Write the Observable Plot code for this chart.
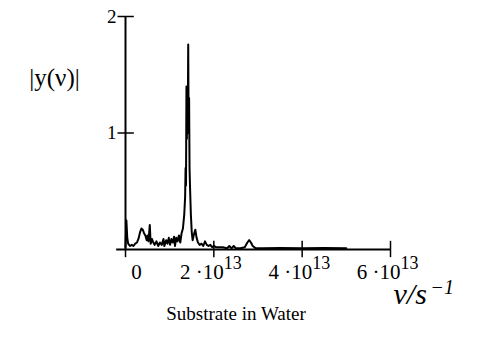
<!DOCTYPE html>
<html>
<head>
<meta charset="utf-8">
<script src="https://cdn.jsdelivr.net/npm/d3@7"></script>
<script src="https://cdn.jsdelivr.net/npm/@observablehq/plot@0.6"></script>
<style>
  html, body { margin: 0; padding: 0; background: #fff; }
</style>
</head>
<body>
<div id="chart"></div>
<script>
// frequency in units of 1e13 s^-1
const nu = [
  0.00, 0.02, 0.04, 0.06, 0.10, 0.14, 0.18, 0.22, 0.26, 0.30,
  0.33, 0.36, 0.39, 0.42, 0.45, 0.48, 0.50, 0.52, 0.55, 0.57,
  0.60, 0.63, 0.66, 0.70, 0.74, 0.78, 0.82, 0.86, 0.88, 0.92,
  0.95, 0.98, 1.01, 1.04, 1.07, 1.10, 1.12, 1.15, 1.18, 1.21,
  1.24, 1.27, 1.30, 1.33, 1.35, 1.36, 1.37, 1.38, 1.39, 1.40,
  1.41, 1.42, 1.43, 1.44, 1.45, 1.46,
  1.48, 1.50, 1.52, 1.55, 1.58, 1.61, 1.64, 1.68, 1.72, 1.76,
  1.80, 1.84, 1.88, 1.92, 1.96, 2.00, 2.05, 2.10, 2.20, 2.30,
  2.35, 2.40, 2.45, 2.50, 2.60, 2.70, 2.76, 2.80, 2.84, 2.88,
  2.95, 3.10, 3.50, 4.00, 4.50, 5.00
];
const amp = [
  0.02, 0.25, 0.10, 0.05, 0.03, 0.04, 0.03, 0.05, 0.06, 0.10,
  0.15, 0.18, 0.17, 0.14, 0.12, 0.08, 0.12, 0.07, 0.21, 0.05,
  0.09, 0.06, 0.04, 0.07, 0.03, 0.06, 0.04, 0.09, 0.03, 0.08,
  0.05, 0.10, 0.04, 0.09, 0.06, 0.11, 0.03, 0.10, 0.07, 0.12,
  0.06, 0.14, 0.18, 0.30, 0.45, 0.70, 0.55, 1.40, 0.95, 1.38,
  1.10, 1.76, 1.00, 1.30, 0.70, 0.55,
  0.30, 0.15, 0.08, 0.13, 0.17, 0.10, 0.06, 0.04, 0.05, 0.03,
  0.07, 0.04, 0.03, 0.04, 0.02, 0.03, 0.02, 0.02, 0.02, 0.01,
  0.03, 0.01, 0.03, 0.01, 0.01, 0.02, 0.06, 0.08, 0.06, 0.03,
  0.01, 0.01, 0.012, 0.01, 0.012, 0.01
];
const xTicks = [0, 2e13, 4e13, 6e13];
const xTickMantissa = ["0", "2 ·10", "4 ·10", "6 ·10"];
const xTickExponent = ["", "13", "13", "13"];
const yTicks = [1, 2];
const yTickLabels = ["1", "2"];

const data = nu.map((v, i) => ({nu: v * 1e13, y: amp[i]}));
const xt = xTicks.map((v, i) => ({v, m: xTickMantissa[i], e: xTickExponent[i]}));
const yt = yTicks.map((v, i) => ({v, t: yTickLabels[i]}));

const font = "'Liberation Serif', 'Times New Roman', serif";

const chart = Plot.plot({
  width: 478,
  height: 351,
  marginLeft: 125,
  marginRight: 88,
  marginTop: 16,
  marginBottom: 102,
  x: {domain: [0, 6e13], axis: null},
  y: {domain: [0, 2], axis: null},
  style: {fontFamily: font, background: "#fff", color: "#000"},
  marks: [
    // data curve
    Plot.line(data, {x: "nu", y: "y", stroke: "black", strokeWidth: 2}),
    // axes lines
    Plot.ruleY([0], {x1: -0.2e13, x2: 6e13, stroke: "black", strokeWidth: 2}),
    Plot.ruleX([0], {y1: 0, y2: 2, stroke: "black", strokeWidth: 2}),
    // y ticks
    Plot.ruleY(yt, {y: "v", x1: -0.17e13, x2: 0.2e13, stroke: "black", strokeWidth: 1.5}),
    // x ticks
    Plot.ruleX(xt.filter(d => d.v > 0), {x: "v", y1: -0.07, y2: 0.07, stroke: "black", strokeWidth: 1.5}),
    Plot.ruleX([0], {y1: -0.07, y2: 0, stroke: "black", strokeWidth: 1.5}),
    // y tick labels
    Plot.text(yt, {y: "v", x: 0, text: "t", textAnchor: "end", dx: -9, fontSize: 19, fill: "black", fontFamily: font}),
    // x tick labels
    Plot.text(xt.filter(d => d.v === 0), {x: "v", y: 0, text: "m", dx: 11, dy: 23, fontSize: 21, fill: "black", fontFamily: font}),
    Plot.text(xt.filter(d => d.v > 0), {x: "v", y: 0, text: "m", textAnchor: "end", dx: 10, dy: 23, fontSize: 21, fill: "black", fontFamily: font}),
    Plot.text(xt.filter(d => d.v > 0), {x: "v", y: 0, text: "e", textAnchor: "start", dx: 10, dy: 14, fontSize: 18, fill: "black", fontFamily: font}),
    // y axis title
    Plot.text(["|y(ν)|"], {frameAnchor: "top-left", textAnchor: "middle", lineAnchor: "middle", dx: -71, dy: 61, fontSize: 25, fill: "black", fontFamily: font}),
    // x axis title
    Plot.text(["ν/s"], {frameAnchor: "bottom-right", textAnchor: "start", dx: 3, dy: 54, fontSize: 30, fontStyle: "italic", fill: "black", fontFamily: font}),
    Plot.text(["−1"], {frameAnchor: "bottom-right", textAnchor: "start", dx: 40, dy: 44, fontSize: 20, fontStyle: "italic", fill: "black", fontFamily: font}),
    // caption
    Plot.text(["Substrate in Water"], {frameAnchor: "bottom", dx: -22, dy: 70, fontSize: 19, fill: "black", fontFamily: font})
  ]
});
document.getElementById("chart").appendChild(chart);
</script>
</body>
</html>
